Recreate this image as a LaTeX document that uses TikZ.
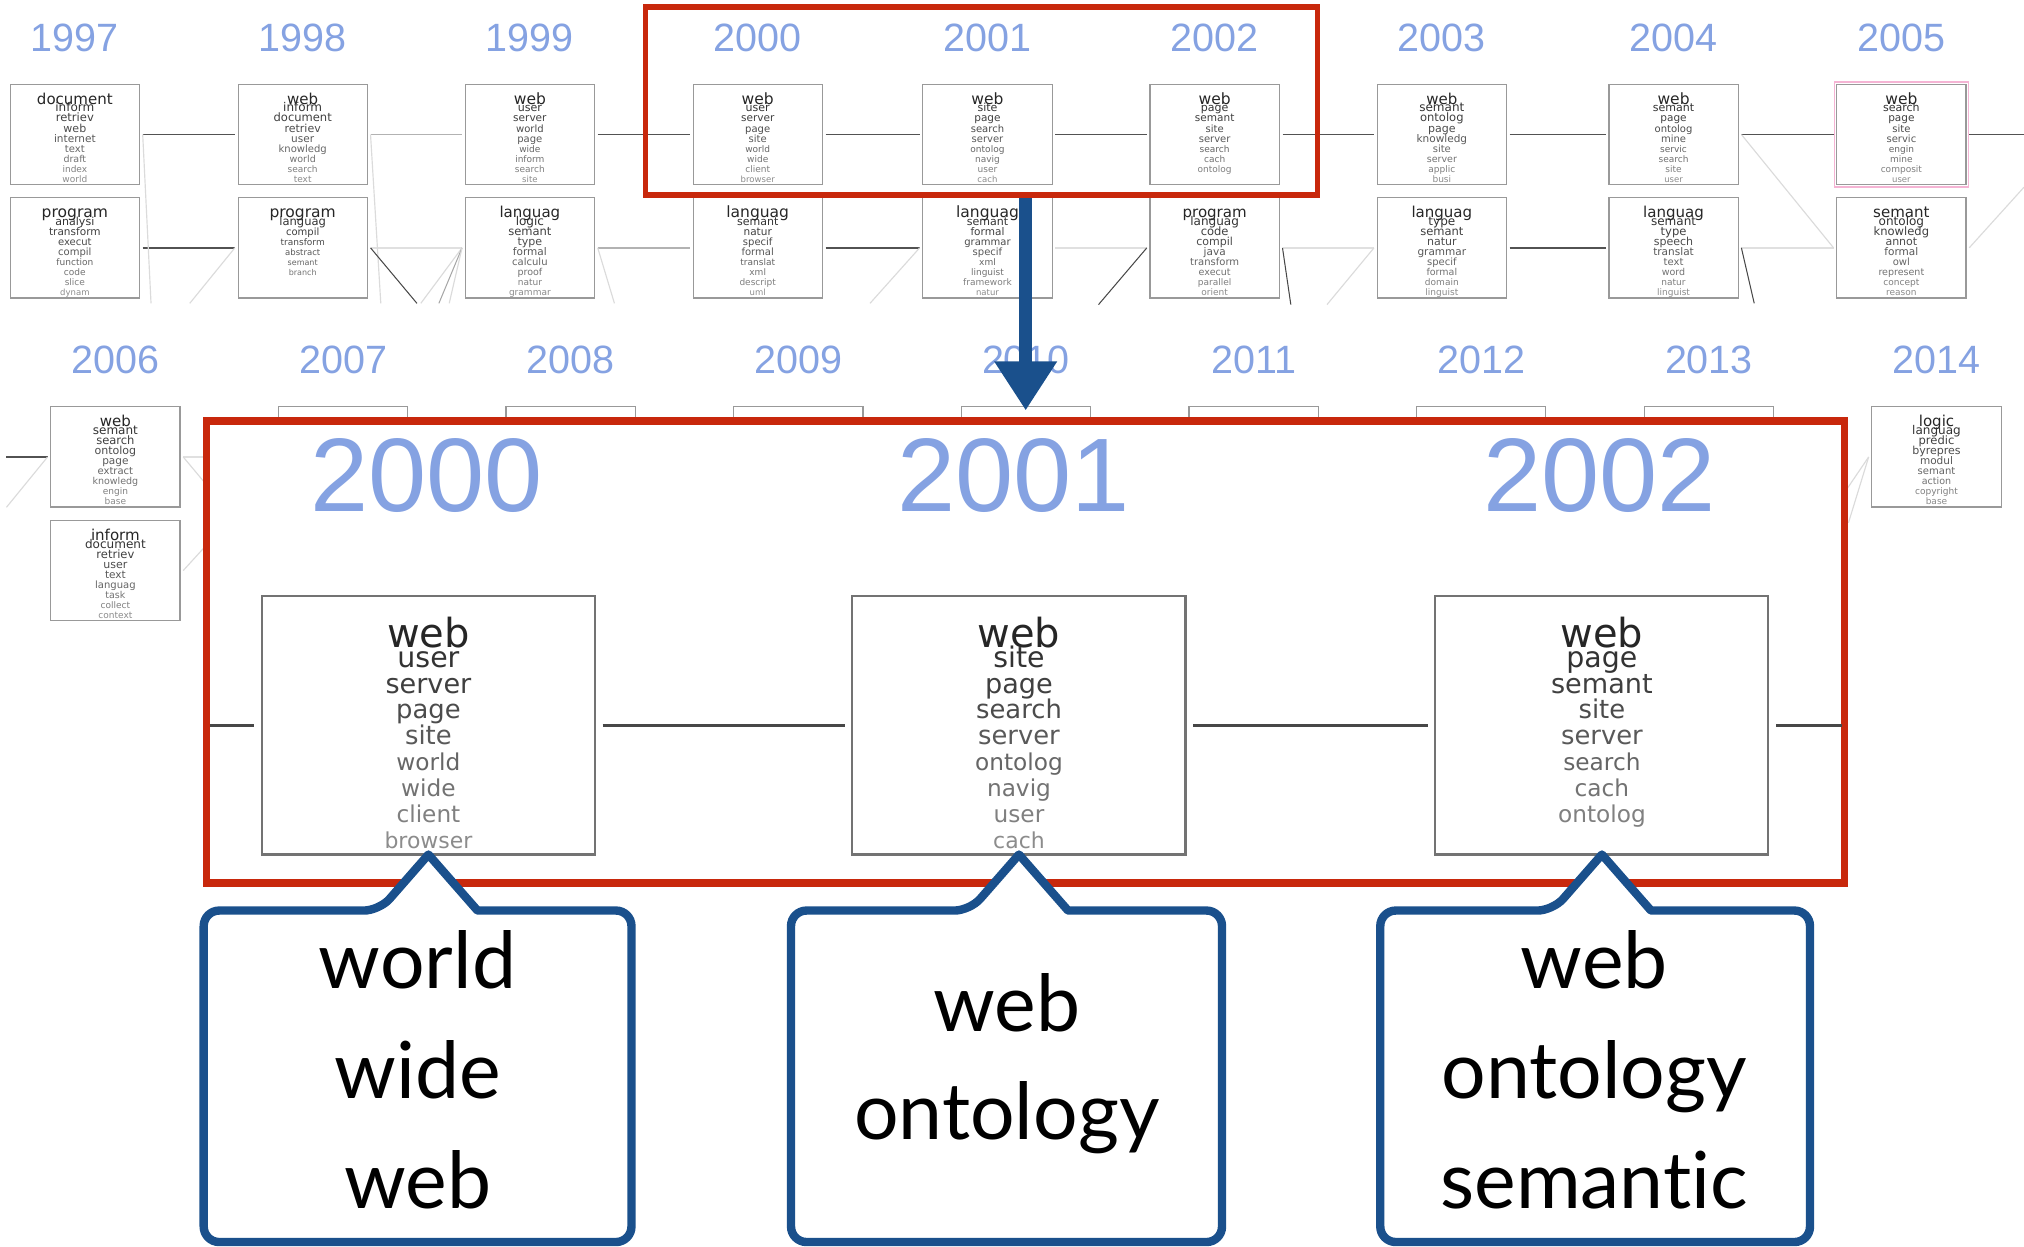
\documentclass[tikz,border=0pt]{standalone}
\usepackage{fontspec}
\setmainfont{DejaVu Sans}
\newfontfamily\cloudfont{DejaVu Sans}
\newfontfamily\yearfont{Liberation Sans}
\newfontfamily\calloutfont[Ligatures=NoCommon]{Lato}
\usetikzlibrary{arrows.meta,fit,calc}

\definecolor{yearblue}{RGB}{133,162,226}
\definecolor{framered}{RGB}{200,40,12}
\definecolor{callblue}{RGB}{26,80,140}
\definecolor{hlpink}{RGB}{245,180,212}

% font-size profiles of a word cloud, by rank of the word
\def\profA#1{\ifcase#1 \or 31\or 22\or 21\or 20\or 20\or 18\or 18\or 18\or 17\else 17\fi}
\def\profB#1{\ifcase#1 \or 30\or 24\or 23\or 22\or 21\or 20\or 19\or 18\or 18\else 18\fi}
\def\profC#1{\ifcase#1 \or 31\or 23\or 20\or 18\or 17\or 16\or 16\or 16\or 16\else 16\fi}

% \wordcloud{profile}{scale}{word list}: stacked, centred words of a topic box
\newcommand{\wordcloud}[3]{%
  \pgfmathsetlengthmacro\wcw{258*#2}%
  \pgfmathsetlengthmacro\wch{200*#2}%
  \pgfmathsetlengthmacro\wcfirst{39.5*#2}%
  \pgfmathsetlengthmacro\wcsecond{15.5*#2}%
  \pgfmathsetlengthmacro\wcskip{20*#2}%
  \vbox to \wch{\hsize=\wcw\relax\offinterlineskip
    \kern\wcfirst\relax
    \foreach \w [count=\i] in {#3}{%
      \ifnum\i=2 \kern\wcsecond\relax\fi
      \ifnum\i>2 \kern\wcskip\relax\fi
      \edef\wcsz{\csname prof#1\endcsname{\i}}%
      \pgfmathsetmacro\wcfs{\wcsz*#2}%
      \pgfmathtruncatemacro\wcgr{90-5*\i}%
      \hbox to \hsize{\hss\smash{\cloudfont\fontsize{\wcfs pt}{\wcfs pt}\selectfont\color{black!\wcgr}\w}\hss}%
    }%
    \vss}%
}

\begin{document}
\begin{tikzpicture}[x=1pt, y=-1pt,
  cloudbox/.style={draw=black!40, line width=0.9, fill=white, inner sep=0pt, outer sep=0pt},
  bigbox/.style={cloudbox, draw=black!55, line width=1.6},
  emptybox/.style={cloudbox, minimum width=100.1, minimum height=77.6},
  yearlbl/.style={anchor=base, inner sep=0pt, text=yearblue, font=\yearfont\fontsize{30.6}{30.6}\selectfont},
  bigyear/.style={anchor=base, inner sep=0pt, text=yearblue, font=\yearfont\fontsize{81}{81}\selectfont},
  link/.style={shorten <=2.5, shorten >=2.5},
  dk/.style={draw=black!68, line width=1.3},
  md/.style={draw=black!30, line width=1.2},
  lt/.style={draw=black!12, line width=1.2},
  dkd/.style={draw=black!72, line width=0.8},
  mdd/.style={draw=black!35, line width=0.8},
  ltd/.style={draw=black!14, line width=0.9},
  bigline/.style={draw=black!72, line width=2.6, shorten <=6, shorten >=6},
  focusframe/.style={draw=framered, line width=4.5, inner sep=0pt},
  insetframe/.style={draw=framered, line width=6, fill=white, inner sep=0pt},
  zoomarrow/.style={draw=callblue, line width=10, -{Triangle[length=38pt, width=46pt]}},
  callbox/.style={inner sep=0pt, minimum height=256.4},
  calloutline/.style={draw=callblue, line width=6.5, line join=round, fill=white},
  calltext/.style={anchor=base, inner sep=0pt, font=\calloutfont\fontsize{61}{61}\selectfont},
  hlbox/.style={draw=hlpink, line width=1.2, inner sep=1.8pt}
]
\useasboundingbox (0,0) rectangle (1568,966);
\clip (0,0) rectangle (1568,966);

% ---------- first row of years: 1997 - 2005 ----------
\foreach \yr/\xx in {1997/58, 1998/234.5, 1999/410.5, 2000/587, 2001/765, 2002/941, 2003/1117, 2004/1296.5, 2005/1473}
  \node[yearlbl] (y\yr) at (\xx,40) {\yr};

\node[cloudbox] (u1997) at (58,104.2)   {\wordcloud{B}{0.388}{document,inform,retriev,web,internet,text,draft,index,world}};
\node[cloudbox] (u1998) at (234.5,104.2) {\wordcloud{B}{0.388}{web,inform,document,retriev,user,knowledg,world,search,text}};
\node[cloudbox] (u1999) at (410.5,104.2) {\wordcloud{A}{0.388}{web,user,server,world,page,wide,inform,search,site}};
\node[cloudbox] (u2000) at (587,104.2)   {\wordcloud{A}{0.388}{web,user,server,page,site,world,wide,client,browser}};
\node[cloudbox] (u2001) at (765,104.2)   {\wordcloud{A}{0.388}{web,site,page,search,server,ontolog,navig,user,cach}};
\node[cloudbox] (u2002) at (941,104.2)   {\wordcloud{A}{0.388}{web,page,semant,site,server,search,cach,ontolog}};
\node[cloudbox] (u2003) at (1117,104.2)  {\wordcloud{B}{0.388}{web,semant,ontolog,page,knowledg,site,server,applic,busi}};
\node[cloudbox] (u2004) at (1296.5,104.2) {\wordcloud{A}{0.388}{web,semant,page,ontolog,mine,servic,search,site,user}};
\node[cloudbox] (u2005) at (1473,104.2)  {\wordcloud{A}{0.388}{web,search,page,site,servic,engin,mine,composit,user}};
\node[hlbox, fit=(u2005)] (hl2005) {};

\node[cloudbox] (l1997) at (58,192)   {\wordcloud{A}{0.388}{program,analysi,transform,execut,compil,function,code,slice,dynam}};
\node[cloudbox] (l1998) at (234.5,192) {\wordcloud{C}{0.388}{program,languag,compil,transform,abstract,semant,branch}};
\node[cloudbox] (l1999) at (410.5,192) {\wordcloud{B}{0.388}{languag,logic,semant,type,formal,calculu,proof,natur,grammar}};
\node[cloudbox] (l2000) at (587,192)   {\wordcloud{A}{0.388}{languag,semant,natur,specif,formal,translat,xml,descript,uml}};
\node[cloudbox] (l2001) at (765,192)   {\wordcloud{A}{0.388}{languag,semant,formal,grammar,specif,xml,linguist,framework,natur}};
\node[cloudbox] (l2002) at (941,192)   {\wordcloud{B}{0.388}{program,languag,code,compil,java,transform,execut,parallel,orient}};
\node[cloudbox] (l2003) at (1117,192)  {\wordcloud{B}{0.388}{languag,type,semant,natur,grammar,specif,formal,domain,linguist}};
\node[cloudbox] (l2004) at (1296.5,192) {\wordcloud{B}{0.388}{languag,semant,type,speech,translat,text,word,natur,linguist}};
\node[cloudbox] (l2005) at (1473,192)  {\wordcloud{B}{0.388}{semant,ontolog,knowledg,annot,formal,owl,represent,concept,reason}};

% topic chains of the first row
\coordinate (rowend) at (1568,104.2);
\draw[dk,link] (u1997) -- (u1998);
\draw[md,link] (u1998) -- (u1999);
\draw[dk,link] (u1999) -- (u2000);
\draw[dk,link] (u2000) -- (u2001);
\draw[dk,link] (u2001) -- (u2002);
\draw[dk,link] (u2002) -- (u2003);
\draw[dk,link] (u2003) -- (u2004);
\draw[dk,link] (u2004) -- (u2005);
\draw[dk,shorten <=2.5] (u2005) -- (rowend);

\draw[dk,link] (l1997) -- (l1998);
\draw[lt,link] (l1998) -- (l1999);
\draw[md,link] (l1999) -- (l2000);
\draw[dk,link] (l2000) -- (l2001);
\draw[lt,link] (l2001) -- (l2002);
\draw[lt,link] (l2002) -- (l2003);
\draw[dk,link] (l2003) -- (l2004);
\draw[lt,link] (l2004) -- (l2005);

% chains leaving the first row
\coordinate (f1) at (117,235);
\coordinate (f2) at (147,235);
\coordinate (f3) at (295,235);
\coordinate (f4) at (323,235);
\coordinate (f5) at (326,235);
\coordinate (f6) at (340,235);
\coordinate (f7) at (348,235);
\coordinate (f8) at (476,235);
\coordinate (f9) at (674,235);
\coordinate (f10) at (851,236);
\coordinate (f11) at (1000,236);
\coordinate (f12) at (1028,236);
\coordinate (f13) at (1359,235);
\coordinate (f14) at (1568,145);
\draw[ltd] ([xshift=2.5]u1997.east) -- (f1);
\draw[ltd] ([xshift=-2.5]l1998.west) -- (f2);
\draw[ltd] ([xshift=2.5]u1998.east) -- (f3);
\draw[dkd] ([xshift=2.5]l1998.east) -- (f4);
\draw[ltd] ([xshift=-2.5]l1999.west) -- (f5);
\draw[mdd] ([xshift=-2.5]l1999.west) -- (f6);
\draw[ltd] ([xshift=-2.5]l1999.west) -- (f7);
\draw[ltd] ([xshift=2.5]l1999.east) -- (f8);
\draw[ltd] ([xshift=-2.5]l2001.west) -- (f9);
\draw[dkd] ([xshift=-2.5]l2002.west) -- (f10);
\draw[dkd] ([xshift=2.5]l2002.east) -- (f11);
\draw[ltd] ([xshift=-2.5]l2003.west) -- (f12);
\draw[dkd] ([xshift=2.5]l2004.east) -- (f13);
\draw[ltd] ([xshift=2.5]u2004.east) -- ([xshift=-2.5]l2005.west);
\draw[ltd] ([xshift=2.5]l2005.east) -- (f14);

% ---------- second row of years: 2006 - 2014 ----------
\foreach \yr/\xx in {2006/89.4, 2007/265.8, 2008/442.1, 2009/618.5, 2010/794.8, 2011/971.2, 2012/1147.5, 2013/1323.9, 2014/1500.2}
  \node[yearlbl] (y\yr) at (\xx,289.2) {\yr};

\node[cloudbox] (u2006) at (89.4,354) {\wordcloud{B}{0.388}{web,semant,search,ontolog,page,extract,knowledg,engin,base}};
\node[cloudbox] (l2006) at (89.4,442) {\wordcloud{B}{0.388}{inform,document,retriev,user,text,languag,task,collect,context}};
\node[cloudbox] (u2014) at (1500.2,354) {\wordcloud{B}{0.388}{logic,languag,predic,byrepres,modul,semant,action,copyright,base}};
\foreach \yr/\xx in {2007/265.8, 2008/442.1, 2009/618.5, 2010/794.8, 2011/971.2, 2012/1147.5, 2013/1323.9}
  \node[emptybox] (u\yr) at (\xx,354) {};

\coordinate (g1) at (5,354);
\coordinate (g2) at (5,393);
\coordinate (g3) at (162,354);
\coordinate (g4) at (162,378);
\coordinate (g5) at (162,420);
\coordinate (g6) at (1430,380);
\coordinate (g7) at (1432,405);
\draw[dk,shorten >=2.5] (g1) -- (u2006);
\draw[ltd] ([xshift=-2.5]u2006.west) -- (g2);
\draw[lt,shorten <=2.5] (u2006) -- (g3);
\draw[ltd] ([xshift=2.5]u2006.east) -- (g4);
\draw[ltd] ([xshift=2.5]l2006.east) -- (g5);
\draw[ltd] ([xshift=-2.5]u2014.west) -- (g6);
\draw[ltd] ([xshift=-2.5]u2014.west) -- (g7);

% ---------- zoom from the framed years to the enlarged view ----------
\coordinate (tip) at (794.6,318);
\node[focusframe, minimum width=520.6, minimum height=145.5] (focus) at (760.3,78.25) {};
\draw[zoomarrow] (focus.south -| tip) -- (tip);

\node[insetframe, minimum width=1269, minimum height=358] (inset) at (794.5,505) {};

\node[bigyear] (Y2000) at (330.6,396.4) {2000};
\node[bigyear] (Y2001) at (785,396.4) {2001};
\node[bigyear] (Y2002) at (1239,396.4) {2002};

\node[bigbox] (b2000) at (331.9,562) {\wordcloud{A}{1}{web,user,server,page,site,world,wide,client,browser}};
\node[bigbox] (b2001) at (789.4,562) {\wordcloud{A}{1}{web,site,page,search,server,ontolog,navig,user,cach}};
\node[bigbox] (b2002) at (1241,562)  {\wordcloud{A}{1}{web,page,semant,site,server,search,cach,ontolog}};

\coordinate (bin) at (163,562);
\coordinate (bout) at (1427,562);
\draw[bigline, shorten <=0] (bin) -- (b2000);
\draw[bigline] (b2000) -- (b2001);
\draw[bigline] (b2001) -- (b2002);
\draw[bigline, shorten >=0] (b2002) -- (bout);

% ---------- call-outs with the topic labels ----------
\node[callbox, minimum width=331] (c1) at (323.5,833.8) {};
\node[callbox, minimum width=333.5] (c2) at (779.75,833.8) {};
\node[callbox, minimum width=332.5] (c3) at (1235.75,833.8) {};

\foreach \c/\b in {c1/b2000, c2/b2001, c3/b2002}{
  \draw[calloutline] ($(\b.south |- \c.north)+(38,0)$) [rounded corners=12]
    -- (\c.north east) -- (\c.south east) -- (\c.south west) -- (\c.north west)
    -- ($(\b.south |- \c.north)+(-38,0)$) [sharp corners] -- (\b.south) -- cycle;
}

\node[calltext] (c1a) at (323.5,766) {world};
\node[calltext] (c1b) at (323.5,851) {wide};
\node[calltext] (c1c) at (323.5,936) {web};
\node[calltext] (c2a) at (780,799) {web};
\node[calltext] (c2b) at (780,883) {ontology};
\node[calltext] (c3a) at (1235,766) {web};
\node[calltext] (c3b) at (1235,851) {ontology};
\node[calltext] (c3c) at (1235,936) {semantic};
\end{tikzpicture}
\end{document}
